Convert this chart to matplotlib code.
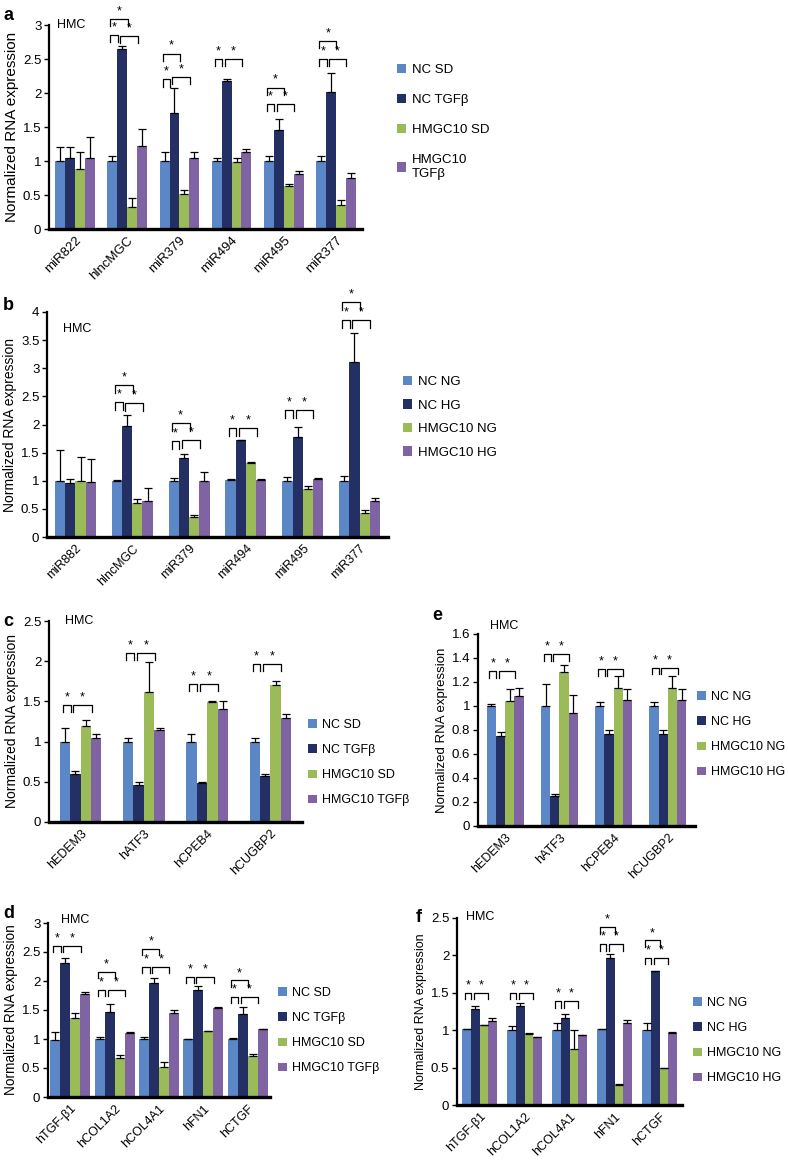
import matplotlib
matplotlib.use("Agg")
import matplotlib.pyplot as plt
import numpy as np

plt.rcParams['font.family'] = ['Liberation Sans', 'DejaVu Sans']

# colours (Excel-like)
colors = ['#5b87c6', '#242f64', '#9bbb59', '#7f63a2']

# ---- panel a ----
a_cats = ['miR822', 'hlncMGC', 'miR379', 'miR494', 'miR495', 'miR377']
a_series = ['NC SD', 'NC TGF\u03b2', 'HMGC10 SD', 'HMGC10\nTGF\u03b2']
a_vals = [[1.0, 1.0, 1.0, 1.0, 1.0, 1.0],
          [1.05, 2.65, 1.70, 2.17, 1.46, 2.01],
          [0.88, 0.33, 0.52, 0.98, 0.63, 0.36],
          [1.04, 1.22, 1.04, 1.13, 0.81, 0.75]]
a_errs = [[0.20, 0.08, 0.13, 0.05, 0.08, 0.08],
          [0.16, 0.04, 0.37, 0.03, 0.16, 0.29],
          [0.25, 0.12, 0.06, 0.06, 0.03, 0.06],
          [0.32, 0.25, 0.09, 0.05, 0.04, 0.07]]
# (group, bar_i, bar_j, level)
a_sig = [(1, 0, 2, 3.09), (1, 0, 1, 2.85), (1, 1, 3, 2.84),
         (2, 0, 2, 2.58), (2, 0, 1, 2.20), (2, 1, 3, 2.24),
         (3, 0, 1, 2.50), (3, 1, 3, 2.50),
         (4, 0, 2, 2.08), (4, 0, 1, 1.84), (4, 1, 3, 1.84),
         (5, 0, 2, 2.77), (5, 0, 1, 2.50), (5, 1, 3, 2.50)]

# ---- panel b ----
b_cats = ['miR882', 'hlncMGC', 'miR379', 'miR494', 'miR495', 'miR377']
b_series = ['NC NG', 'NC HG', 'HMGC10 NG', 'HMGC10 HG']
b_vals = [[1.0, 1.0, 1.0, 1.02, 1.0, 1.0],
          [0.96, 1.98, 1.41, 1.72, 1.78, 3.11],
          [1.0, 0.61, 0.36, 1.32, 0.85, 0.43],
          [0.98, 0.64, 1.0, 1.02, 1.04, 0.64]]
b_errs = [[0.54, 0.01, 0.05, 0.01, 0.07, 0.09],
          [0.07, 0.19, 0.07, 0.01, 0.17, 0.51],
          [0.42, 0.06, 0.04, 0.01, 0.06, 0.05],
          [0.40, 0.23, 0.15, 0.01, 0.01, 0.05]]
b_sig = [(1, 0, 2, 2.70), (1, 0, 1, 2.40), (1, 1, 3, 2.38),
         (2, 0, 2, 2.03), (2, 0, 1, 1.71), (2, 1, 3, 1.72),
         (3, 0, 1, 1.94), (3, 1, 3, 1.94),
         (4, 0, 1, 2.26), (4, 1, 3, 2.26),
         (5, 0, 2, 4.18), (5, 0, 1, 3.86), (5, 1, 3, 3.85)]

# ---- panel c ----
c_cats = ['hEDEM3', 'hATF3', 'hCPEB4', 'hCUGBP2']
c_series = ['NC SD', 'NC TGF\u03b2', 'HMGC10 SD', 'HMGC10 TGF\u03b2']
c_vals = [[1.0, 1.0, 1.0, 1.0],
          [0.60, 0.46, 0.49, 0.57],
          [1.19, 1.62, 1.49, 1.70],
          [1.04, 1.14, 1.41, 1.29]]
c_errs = [[0.17, 0.04, 0.09, 0.04],
          [0.04, 0.04, 0.01, 0.03],
          [0.08, 0.37, 0.02, 0.05],
          [0.06, 0.03, 0.09, 0.05]]
c_sig = [(0, 0, 1, 1.45), (0, 1, 3, 1.45),
         (1, 0, 1, 2.10), (1, 1, 3, 2.10),
         (2, 0, 1, 1.72), (2, 1, 3, 1.72),
         (3, 0, 1, 1.96), (3, 1, 3, 1.96)]

# ---- panel e ----
e_cats = ['hEDEM3', 'hATF3', 'hCPEB4', 'hCUGBP2']
e_series = ['NC NG', 'NC HG', 'HMGC10 NG', 'HMGC10 HG']
e_vals = [[1.0, 1.0, 1.0, 1.0],
          [0.75, 0.25, 0.77, 0.77],
          [1.04, 1.28, 1.15, 1.15],
          [1.08, 0.94, 1.05, 1.05]]
e_errs = [[0.02, 0.18, 0.03, 0.03],
          [0.03, 0.02, 0.03, 0.03],
          [0.10, 0.06, 0.10, 0.10],
          [0.07, 0.15, 0.09, 0.09]]
e_sig = [(0, 0, 1, 1.29), (0, 1, 3, 1.29),
         (1, 0, 1, 1.43), (1, 1, 3, 1.43),
         (2, 0, 1, 1.31), (2, 1, 3, 1.31),
         (3, 0, 1, 1.32), (3, 1, 3, 1.32)]

# ---- panel d ----
d_cats = ['hTGF-\u03b21', 'hCOL1A2', 'hCOL4A1', 'hFN1', 'hCTGF']
d_series = ['NC SD', 'NC TGF\u03b2', 'HMGC10 SD', 'HMGC10 TGF\u03b2']
d_vals = [[0.99, 1.0, 1.0, 1.0, 1.0],
          [2.31, 1.47, 1.96, 1.85, 1.43],
          [1.36, 0.67, 0.52, 1.14, 0.71],
          [1.78, 1.11, 1.44, 1.54, 1.17]]
d_errs = [[0.13, 0.03, 0.03, 0.005, 0.01],
          [0.09, 0.14, 0.09, 0.06, 0.13],
          [0.09, 0.05, 0.09, 0.005, 0.03],
          [0.03, 0.01, 0.06, 0.005, 0.01]]
d_sig = [(0, 0, 1, 2.60), (0, 1, 3, 2.60),
         (1, 0, 2, 2.15), (1, 0, 1, 1.84), (1, 1, 3, 1.84),
         (2, 0, 2, 2.55), (2, 0, 1, 2.24), (2, 1, 3, 2.24),
         (3, 0, 1, 2.07), (3, 1, 3, 2.07),
         (4, 0, 2, 2.01), (4, 0, 1, 1.72), (4, 1, 3, 1.72)]

# ---- panel f ----
f_cats = ['hTGF-\u03b21', 'hCOL1A2', 'hCOL4A1', 'hFN1', 'hCTGF']
f_series = ['NC NG', 'NC HG', 'HMGC10 NG', 'HMGC10 HG']
f_vals = [[1.01, 1.0, 1.0, 1.01, 1.0],
          [1.28, 1.33, 1.16, 1.96, 1.79],
          [1.07, 0.95, 0.75, 0.27, 0.49],
          [1.12, 0.91, 0.93, 1.09, 0.96]]
f_errs = [[0.005, 0.05, 0.09, 0.005, 0.09],
          [0.04, 0.03, 0.06, 0.06, 0.005],
          [0.005, 0.01, 0.25, 0.01, 0.005],
          [0.04, 0.005, 0.01, 0.04, 0.02]]
f_sig = [(0, 0, 1, 1.50), (0, 1, 3, 1.50),
         (1, 0, 1, 1.50), (1, 1, 3, 1.50),
         (2, 0, 1, 1.39), (2, 1, 3, 1.39),
         (3, 0, 2, 2.38), (3, 0, 1, 2.15), (3, 1, 3, 2.15),
         (4, 0, 2, 2.20), (4, 0, 1, 1.97), (4, 1, 3, 1.97)]


def draw_panel(ax, cats, series, vals, errs, sig, width, ymax, ystep,
               leg_anchor, leg_space, ylab_fs, leg_fs=9.5, cat_fs=9):
    x = np.arange(len(cats))
    offs = (np.arange(4) - 1.5) * width
    for k in range(4):
        ax.bar(x + offs[k], vals[k], width, color=colors[k], label=series[k],
               zorder=2)
        ax.errorbar(x + offs[k], vals[k],
                    yerr=[np.zeros(len(cats)), errs[k]], fmt='none',
                    ecolor='black', elinewidth=0.9, capsize=2.6,
                    capthick=0.9, zorder=3)
    leg = 0.035 * ymax
    for g, i, j, lev in sig:
        x1 = g + offs[i] - 0.2 * width
        x2 = g + offs[j] - 0.45 * width
        ax.plot([x1, x1, x2, x2], [lev - leg, lev, lev, lev - leg],
                color='black', lw=0.9, clip_on=False, zorder=4)
        ax.text((x1 + x2) / 2, lev + 0.008 * ymax, '*', ha='center',
                va='bottom', fontsize=9, clip_on=False)
    ax.set_xlim(-0.5, len(cats) - 0.5)
    ax.set_ylim(0, ymax)
    ticks = np.arange(0, ymax + ystep / 2, ystep)
    ax.set_yticks(ticks)
    ax.set_yticklabels(['%g' % round(t, 2) for t in ticks], fontsize=9.5)
    ax.set_xticks(x)
    ax.set_xticklabels(cats, rotation=45, ha='right', rotation_mode='anchor',
                       fontsize=cat_fs)
    ax.tick_params(axis='x', length=0, pad=4)
    ax.tick_params(axis='y', length=3.5, width=1, pad=2)
    for s in ['top', 'right']:
        ax.spines[s].set_visible(False)
    ax.spines['left'].set_linewidth(1.6)
    ax.spines['bottom'].set_linewidth(2.4)
    ax.set_ylabel('Normalized RNA expression', fontsize=ylab_fs, labelpad=3)
    ax.legend(loc='upper left', bbox_to_anchor=leg_anchor,
              bbox_transform=fig.transFigure, frameon=False, fontsize=leg_fs,
              handlelength=0.7, handleheight=0.7, handletextpad=0.4,
              borderpad=0, borderaxespad=0, labelspacing=leg_space)


W, H = 788, 1160
fig = plt.figure(figsize=(W / 100, H / 100), dpi=100)


def box(l, r, top, bot):
    return [l / W, 1 - bot / H, (r - l) / W, (bot - top) / H]


ax_a = fig.add_axes(box(49, 362, 25, 229))
draw_panel(ax_a, a_cats, a_series, a_vals, a_errs, a_sig, 0.19, 3, 0.5,
           (397 / W, 1 - 64 / H), 1.35, 11, cat_fs=9.5)
ax_b = fig.add_axes(box(47, 388, 312, 537))
draw_panel(ax_b, b_cats, b_series, b_vals, b_errs, b_sig, 0.18, 4, 0.5,
           (403 / W, 1 - 376 / H), 0.85, 10)
ax_c = fig.add_axes(box(49, 302, 621, 822))
draw_panel(ax_c, c_cats, c_series, c_vals, c_errs, c_sig, 0.165, 2.5, 0.5,
           (308 / W, 1 - 719 / H), 1.05, 10, leg_fs=9)
ax_e = fig.add_axes(box(478, 695, 634, 826))
draw_panel(ax_e, e_cats, e_series, e_vals, e_errs, e_sig, 0.17, 1.6, 0.2,
           (697 / W, 1 - 691 / H), 1.05, 9.5, leg_fs=9)
ax_d = fig.add_axes(box(48, 270, 923, 1097))
draw_panel(ax_d, d_cats, d_series, d_vals, d_errs, d_sig, 0.225, 3, 0.5,
           (278 / W, 1 - 987 / H), 1.05, 9.8, leg_fs=9)
ax_f = fig.add_axes(box(457, 682, 918, 1105))
draw_panel(ax_f, f_cats, f_series, f_vals, f_errs, f_sig, 0.19, 2.5, 0.5,
           (693 / W, 1 - 997 / H), 1.05, 9, leg_fs=9)

# panel letters and cell-type labels
for lab, px, py in [('a', 3, 16), ('b', 3, 305), ('c', 3, 622),
                    ('e', 432, 616), ('d', 3, 914), ('f', 416, 918)]:
    fig.text(px / W, 1 - py / H, lab, fontsize=13, fontweight='bold',
             va='center', ha='left')
for px, py in [(57, 25), (63, 329), (65, 621), (490, 626), (61, 920),
               (466, 917)]:
    fig.text(px / W, 1 - py / H, 'HMC', fontsize=9, va='center', ha='left')

fig.savefig('out.png', dpi=100)
